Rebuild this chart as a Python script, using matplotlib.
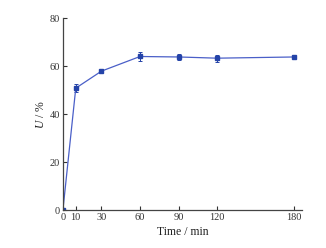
import matplotlib.pyplot as plt
import numpy as np

plt.rcParams['font.family'] = ['Liberation Serif', 'DejaVu Serif']
plt.rcParams['mathtext.fontset'] = 'custom'
plt.rcParams['mathtext.it'] = 'Liberation Serif:italic'
plt.rcParams['mathtext.rm'] = 'Liberation Serif'

time = [0, 10, 30, 60, 90, 120, 180]
U = [0, 50.8, 57.9, 64.0, 63.8, 63.3, 63.8]
err = [0, 1.8, 0.5, 2.0, 1.2, 1.5, 0.5]
xticks = [0, 10, 30, 60, 90, 120, 180]
yticks = [0, 20, 40, 60, 80]

fig = plt.figure(figsize=(3.26, 2.48), dpi=100)
ax = fig.add_axes([0.193, 0.153, 0.733, 0.774])

ax.errorbar(time, U, yerr=err, color="#4a5fc8", lw=0.9, marker="s", ms=3,
            mfc="#2443a8", mec="#2443a8", ecolor="#2443a8", elinewidth=0.7,
            capsize=1.5, capthick=0.7)

ax.set_xlim(0, 186)
ax.set_ylim(0, 80)
ax.set_xticks(xticks)
ax.set_yticks(yticks)
ax.tick_params(direction="in", length=3, width=0.8, labelsize=7.5, colors="#333333", pad=2)
for s in ["top", "right"]:
    ax.spines[s].set_visible(False)
for s in ["left", "bottom"]:
    ax.spines[s].set_color("#444444")
    ax.spines[s].set_linewidth(0.9)

ax.set_xlabel("Time / min", fontsize=8.5, color="#222222", labelpad=3)
ax.set_ylabel("$\\mathit{U}$ / %", fontsize=8.5, color="#222222", labelpad=2)

fig.savefig("out.png", dpi=100)
